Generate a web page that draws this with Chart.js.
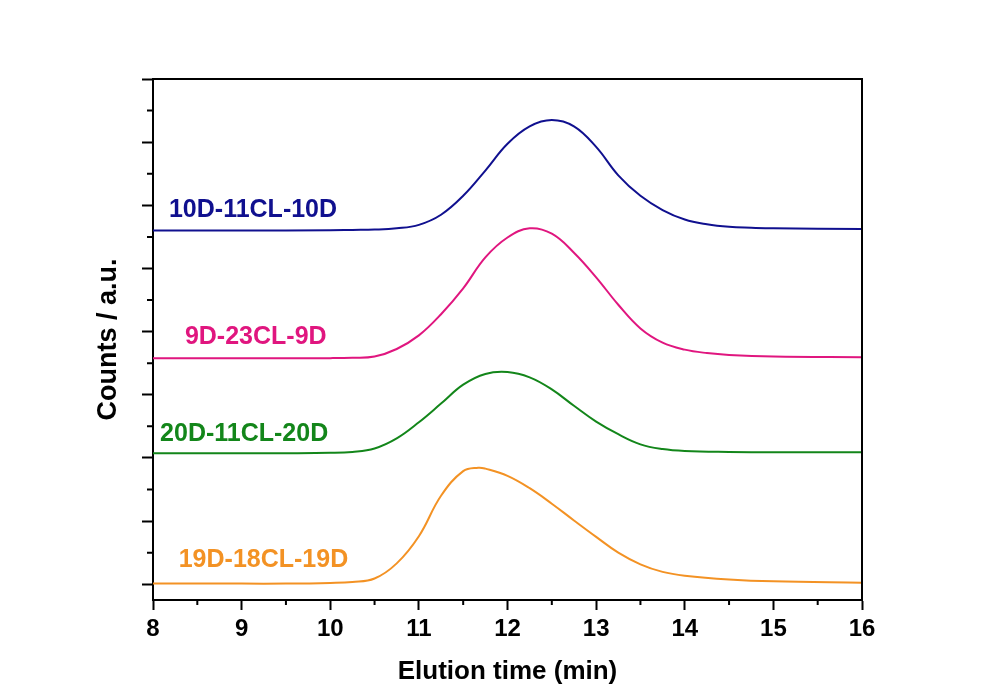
<!DOCTYPE html>
<html>
<head>
<meta charset="utf-8">
<script src="https://cdn.jsdelivr.net/npm/chart.js@4.4.0/dist/chart.umd.min.js"></script>
<style>
  html, body { margin: 0; padding: 0; background: #fff; overflow: hidden; }
</style>
</head>
<body>
<canvas id="gpc" width="983" height="691"></canvas>
<script>
// elution curves, offset vertically (a.u.)
var names = ['10D-11CL-10D', '9D-23CL-9D', '20D-11CL-20D', '19D-18CL-19D'];
var colors = ['#10108f', '#e0167f', '#13861a', '#f39224'];

var blueX = [8, 9, 10, 10.25, 10.5, 10.75, 11, 11.25, 11.5, 11.75, 12, 12.25, 12.5, 12.75, 13, 13.25, 13.5, 13.75, 14, 14.25, 14.5, 14.75, 15, 16];
var blueY = [11.20, 11.20, 11.21, 11.22, 11.23, 11.27, 11.38, 11.70, 12.30, 13.10, 13.95, 14.50, 14.70, 14.50, 13.85, 12.95, 12.30, 11.85, 11.55, 11.40, 11.32, 11.29, 11.27, 11.25];

var pinkX = [8, 9, 10, 10.25, 10.5, 10.75, 11, 11.25, 11.5, 11.75, 12, 12.25, 12.5, 12.75, 13, 13.25, 13.5, 13.75, 14, 14.25, 14.5, 15, 16];
var pinkY = [7.16, 7.16, 7.16, 7.17, 7.21, 7.45, 7.88, 8.55, 9.37, 10.35, 10.98, 11.27, 11.10, 10.50, 9.72, 8.85, 8.10, 7.65, 7.43, 7.32, 7.26, 7.21, 7.19];

var greenX = [8, 9, 9.5, 10, 10.25, 10.5, 10.75, 11, 11.25, 11.5, 11.75, 12, 12.25, 12.5, 12.75, 13, 13.25, 13.5, 13.75, 14, 14.5, 15, 16];
var greenY = [4.15, 4.15, 4.15, 4.16, 4.19, 4.30, 4.62, 5.13, 5.72, 6.32, 6.66, 6.72, 6.55, 6.17, 5.65, 5.15, 4.75, 4.43, 4.28, 4.22, 4.19, 4.18, 4.18];

var orangeX = [8, 9, 9.5, 10, 10.25, 10.5, 10.75, 11, 11.25, 11.5, 11.67, 11.75, 12, 12.25, 12.5, 12.75, 13, 13.25, 13.5, 13.75, 14, 14.5, 15, 16];
var orangeY = [0.02, 0.02, 0.02, 0.04, 0.07, 0.18, 0.66, 1.52, 2.80, 3.58, 3.69, 3.66, 3.43, 3.04, 2.55, 2.02, 1.50, 1.00, 0.63, 0.39, 0.27, 0.15, 0.09, 0.05];

// where the sample names sit (minutes, a.u.)
var labelX = [8.18, 8.36, 8.08, 8.29];
var labelY = [11.85, 7.83, 4.76, 0.77];

var xMinor = [8.5, 9.5, 10.5, 11.5, 12.5, 13.5, 14.5, 15.5];
var yMinor = [1, 3, 5, 7, 9, 11, 13, 15];

function pts(xs, ys) {
    return xs.map(function (x, i) { return { x: x, y: ys[i] }; });
}

var series = [pts(blueX, blueY), pts(pinkX, pinkY), pts(greenX, greenY), pts(orangeX, orangeY)];

var FONT = "'Liberation Sans', Arial, sans-serif";

var extras = {
    id: 'extras',
    afterDraw: function (chart) {
        var c = chart.ctx, a = chart.chartArea;
        var xs = chart.scales.x, ys = chart.scales.y;
        c.save();
        c.strokeStyle = '#000';
        c.lineWidth = 2;
        // top + right frame
        c.beginPath();
        c.moveTo(a.left, a.top);
        c.lineTo(a.right, a.top);
        c.lineTo(a.right, a.bottom);
        c.stroke();
        // minor ticks
        c.beginPath();
        xMinor.forEach(function (v) {
            var p = xs.getPixelForValue(v);
            c.moveTo(p, a.bottom);
            c.lineTo(p, a.bottom + 5);
        });
        yMinor.forEach(function (v) {
            var p = ys.getPixelForValue(v);
            c.moveTo(a.left, p);
            c.lineTo(a.left - 6, p);
        });
        c.stroke();
        // sample names
        c.font = 'bold 25px ' + FONT;
        c.textBaseline = 'middle';
        c.textAlign = 'left';
        names.forEach(function (n, i) {
            c.fillStyle = colors[i];
            c.fillText(n, xs.getPixelForValue(labelX[i]), ys.getPixelForValue(labelY[i]));
        });
        c.restore();
    }
};

new Chart(document.getElementById('gpc'), {
    type: 'line',
    data: {
        datasets: series.map(function (d, i) {
            return {
                label: names[i],
                data: d,
                borderColor: colors[i],
                borderWidth: 2,
                pointRadius: 0,
                fill: false,
                tension: 0.4
            };
        })
    },
    options: {
        responsive: false,
        animation: false,
        layout: { padding: { left: 88, top: 79, right: 121, bottom: 0 } },
        plugins: { legend: { display: false }, tooltip: { enabled: false } },
        scales: {
            x: {
                type: 'linear',
                min: 8,
                max: 16,
                afterFit: function (s) { s.height = 91; },
                border: { display: true, color: '#000', width: 2 },
                grid: { drawOnChartArea: false, drawTicks: true, tickLength: 10, tickWidth: 2, tickColor: '#000' },
                ticks: { stepSize: 1, padding: 5, color: '#000', font: { family: FONT, size: 24, weight: 'bold' } },
                title: { display: true, text: 'Elution time (min)', color: '#000', font: { family: FONT, size: 26, weight: 'bold' } }
            },
            y: {
                type: 'linear',
                min: -0.5,
                max: 16,
                afterFit: function (s) { s.width = 65; },
                border: { display: true, color: '#000', width: 2 },
                grid: { drawOnChartArea: false, drawTicks: true, tickLength: 11, tickWidth: 2, tickColor: '#000' },
                ticks: { stepSize: 2, includeBounds: false, display: false },
                title: { display: true, text: 'Counts / a.u.', color: '#000', font: { family: FONT, size: 27, weight: 'bold' } }
            }
        }
    },
    plugins: [extras]
});
</script>
</body>
</html>
